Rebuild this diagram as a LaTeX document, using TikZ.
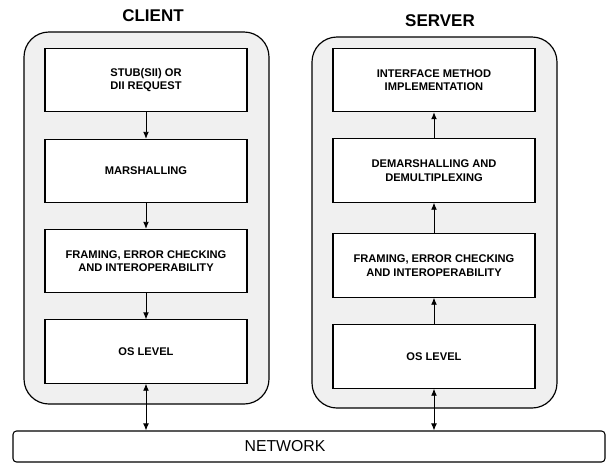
\documentclass[tikz,border=0pt]{standalone}
\usepackage{fontspec}
\setmainfont{Liberation Sans}
\usetikzlibrary{arrows.meta}

\begin{document}
\begin{tikzpicture}[x=0.03cm, y=-0.03cm,
  side/.style={draw, line width=1pt, rounded corners=0.75cm, fill=black!6, minimum width=7.35cm},
  layer/.style={draw, line width=0.9pt, fill=white, minimum width=6.06cm, minimum height=1.9cm, align=center, font=\bfseries\fontsize{9.5}{11.5}\selectfont},
  title/.style={font=\bfseries\fontsize{14.5}{16}\selectfont},
  flow/.style={-{Latex[length=6pt, width=5pt]}, line width=0.8pt},
  link/.style={{Latex[length=6pt, width=5pt]}-{Latex[length=6pt, width=5pt]}, line width=0.8pt}]
\useasboundingbox (0,0) rectangle (609,463);
% client and server sides
\node[side, minimum height=11.16cm] (CS) at (146.5,218) {};
\node[side, minimum height=11.13cm] (SS) at (434.5,222.5) {};
\node[title] (CT) at (153,16) {CLIENT};
\node[title] (ST) at (440,21) {SERVER};
% client stack
\node[layer] (C1) at (146,80) {STUB(SII) OR\\DII REQUEST};
\node[layer] (C2) at (146,171) {MARSHALLING};
\node[layer] (C3) at (146,261) {FRAMING, ERROR CHECKING\\AND INTEROPERABILITY};
\node[layer] (C4) at (146,351.5) {OS LEVEL};
% server stack
\node[layer] (S1) at (434,80) {INTERFACE METHOD\\IMPLEMENTATION};
\node[layer] (S2) at (434,170.5) {DEMARSHALLING AND\\DEMULTIPLEXING};
\node[layer] (S3) at (434,265.5) {FRAMING, ERROR CHECKING\\AND INTEROPERABILITY};
\node[layer] (S4) at (434,356.5) {OS LEVEL};
% network
\node[draw, line width=0.9pt, rounded corners=3pt, minimum width=17.76cm, minimum height=0.93cm] (NET) at (309,446.5) {};
\node[font=\fontsize{13.5}{15}\selectfont] (NL) at (285,446) {NETWORK};
\draw[flow] (C1) -- (C2);
\draw[flow] (C2) -- (C3);
\draw[flow] (C3) -- (C4);
\draw[flow] (S4) -- (S3);
\draw[flow] (S3) -- (S2);
\draw[flow] (S2) -- (S1);
\draw[link] (C4.south) -- (C4.south |- NET.north);
\draw[link] (S4.south) -- (S4.south |- NET.north);
\end{tikzpicture}
\end{document}
